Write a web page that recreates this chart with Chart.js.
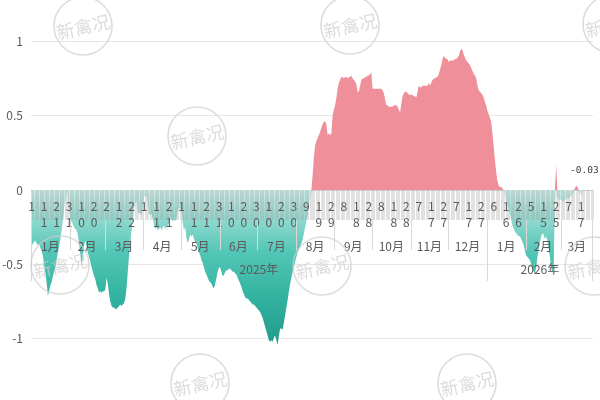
<!DOCTYPE html>
<html>
<head>
<meta charset="utf-8">
<script src="https://cdn.jsdelivr.net/npm/chart.js@4.4.1/dist/chart.umd.min.js"></script>
<style>
  html, body { margin: 0; padding: 0; background: #fff; }
  #wrap { width: 600px; height: 400px; }
</style>
</head>
<body>
<div id="wrap"><canvas id="chart" width="600" height="400"></canvas></div>
<script>
// ---------- DATA (daily values) ----------
const jan25 = [-0.38,-0.36,-0.35,-0.34,-0.36,-0.37,-0.36,-0.39,-0.41,-0.44,-0.50,-0.56,-0.62,-0.71,-0.68,-0.64,-0.62,-0.58,-0.55,-0.52,-0.47,-0.42,-0.38,-0.33,-0.27,-0.20,-0.12,-0.07,-0.03,0,-0.15];
const feb25 = [-0.20,-0.21,-0.23,-0.25,-0.26,-0.27,-0.30,-0.36,-0.43,-0.51,-0.44,-0.37,-0.34,-0.38,-0.42,-0.45,-0.48,-0.52,-0.55,-0.58,-0.60,-0.64,-0.66,-0.69,-0.68,-0.69,-0.68,-0.68];
const mar25 = [-0.67,-0.59,-0.63,-0.70,-0.75,-0.78,-0.79,-0.79,-0.80,-0.80,-0.79,-0.78,-0.77,-0.78,-0.77,-0.76,-0.73,-0.66,-0.55,-0.44,-0.35,-0.27,-0.19,-0.12,-0.09,-0.07,-0.14,-0.16,-0.15,-0.17,-0.10];
const apr25 = [-0.05,-0.04,-0.04,-0.09,-0.16,-0.17,-0.16,-0.19,-0.24,-0.26,-0.25,-0.27,-0.26,-0.25,-0.27,-0.25,-0.24,-0.26,-0.25,-0.24,-0.22,-0.18,-0.20,-0.21,-0.20,-0.21,-0.19,-0.14,-0.12,-0.13];
const may25 = [-0.15,-0.22,-0.27,-0.25,-0.32,-0.36,-0.33,-0.30,-0.31,-0.30,-0.33,-0.35,-0.36,-0.39,-0.42,-0.44,-0.47,-0.49,-0.52,-0.55,-0.57,-0.59,-0.61,-0.62,-0.63,-0.65,-0.66,-0.63,-0.59,-0.55,-0.52];
const jun25 = [-0.52,-0.55,-0.58,-0.57,-0.55,-0.54,-0.54,-0.53,-0.53,-0.54,-0.55,-0.55,-0.56,-0.57,-0.59,-0.61,-0.63,-0.65,-0.68,-0.70,-0.72,-0.73,-0.73,-0.74,-0.75,-0.76,-0.77,-0.77,-0.78,-0.79];
const jul25 = [-0.80,-0.81,-0.82,-0.84,-0.86,-0.89,-0.92,-0.95,-0.98,-1.01,-1.02,-1.01,-1.02,-0.99,-0.98,-1.01,-1.04,-0.98,-0.93,-0.93,-0.94,-0.89,-0.84,-0.79,-0.74,-0.68,-0.63,-0.59,-0.55,-0.51,-0.48];
const aug25 = [-0.45,-0.42,-0.40,-0.38,-0.36,-0.33,-0.29,-0.25,-0.21,-0.17,-0.11,-0.05,0,0.10,0.22,0.30,0.33,0.35,0.37,0.39,0.42,0.44,0.46,0.46,0.44,0.37,0.38,0.37,0.38,0.50,0.54];
const sep25 = [0.57,0.62,0.68,0.72,0.74,0.76,0.76,0.75,0.76,0.76,0.75,0.76,0.76,0.77,0.75,0.74,0.73,0.71,0.66,0.66,0.70,0.74,0.75,0.75,0.76,0.76,0.77,0.77,0.78,0.79];
const oct25 = [0.68,0.68,0.68,0.68,0.68,0.68,0.68,0.68,0.67,0.65,0.61,0.57,0.57,0.56,0.56,0.56,0.56,0.57,0.57,0.57,0.56,0.54,0.52,0.58,0.63,0.65,0.66,0.66,0.65,0.64,0.64];
const nov25 = [0.64,0.64,0.63,0.63,0.62,0.66,0.70,0.69,0.69,0.70,0.70,0.70,0.70,0.70,0.72,0.70,0.72,0.74,0.75,0.75,0.76,0.76,0.78,0.81,0.84,0.88,0.90,0.89,0.88,0.88];
const dec25 = [0.86,0.87,0.87,0.87,0.87,0.88,0.88,0.89,0.90,0.93,0.95,0.94,0.91,0.89,0.87,0.86,0.85,0.84,0.82,0.80,0.78,0.77,0.75,0.70,0.67,0.66,0.65,0.64,0.62,0.59,0.57];
const jan26 = [0.53,0.51,0.48,0.46,0.38,0.29,0.20,0.12,0.06,0.03,0.02,0.02,0.01,0,-0.03,-0.07,-0.10,-0.13,-0.16,-0.20,-0.24,-0.26,-0.28,-0.29,-0.30,-0.31,-0.31,-0.33,-0.35,-0.37,-0.41];
const feb26 = [-0.44,-0.45,-0.46,-0.47,-0.50,-0.53,-0.55,-0.56,-0.52,-0.45,-0.40,-0.35,-0.31,-0.29,-0.30,-0.33,-0.31,-0.34,-0.40,-0.45,-0.52,-0.56,-0.50,-0.10,0.17,-0.05,-0.06,-0.07];
const mar26 = [-0.06,-0.07,-0.08,-0.07,-0.06,-0.05,-0.06,-0.05,-0.04,-0.03,-0.02,0.01,0.03,0.02,-0.01,-0.02,-0.03,-0.03];

// ---------- AXIS TEXT ----------
const monthNames2025 = ["1月","2月","3月","4月","5月","6月","7月","8月","9月","10月","11月","12月"];
const monthNames2026 = ["1月","2月","3月"];
const yearNames = ["2025年","2026年"];
const yTicks = [-1, -0.5, 0, 0.5, 1];

const values = [].concat(jan25, feb25, mar25, apr25, may25, jun25, jul25, aug25,
  sep25, oct25, nov25, dec25, jan26, feb26, mar26);

// one category per day, Jan 1 2025 .. Mar 26 2026 (last days empty)
const categoryCount = 450;
const dates = [];
for (let i = 0; i < categoryCount; i++) dates.push(new Date(2025, 0, 1 + i));
const labels = dates.map(d => `${d.getFullYear()}-${d.getMonth() + 1}-${d.getDate()}`);

const padded = labels.map((_, i) => (i < values.length ? values[i] : null));
const positive = padded.map(v => (v === null ? null : Math.max(v, 0)));
const negative = padded.map(v => (v === null ? null : Math.min(v, 0)));

const FONT = '"Noto Sans CJK SC", "Noto Sans", sans-serif';
const TEXT = "#595959";

// ---------- TEAL GRADIENT ----------
function negFill(context) {
  const chart = context.chart;
  const { ctx, chartArea, scales } = chart;
  if (!chartArea || !scales.y) return "#4cc3b3";
  const top = scales.y.getPixelForValue(0);
  const bottom = scales.y.getPixelForValue(-1.05);
  const g = ctx.createLinearGradient(0, top, 0, bottom);
  g.addColorStop(0, "#cdeee9");
  g.addColorStop(0.15, "#9adcd3");
  g.addColorStop(0.4, "#52c6b6");
  g.addColorStop(0.7, "#31b19f");
  g.addColorStop(1, "#23998a");
  return g;
}

// ---------- MULTI-LEVEL DATE AXIS + LABEL + WATERMARKS ----------
const axisPlugin = {
  id: "multiAxis",
  afterDatasetsDraw(chart) {
    const { ctx, scales: { x, y } } = chart;
    const n = labels.length;
    const slot = (x.right - x.left) / n;
    const edge = i => x.left + i * slot;
    const y0 = y.getPixelForValue(0);

    ctx.save();

    // per-day stripes under the zero line
    ctx.strokeStyle = "rgba(160,160,160,0.45)";
    ctx.lineWidth = 0.7;
    ctx.beginPath();
    for (let i = 0; i <= n; i++) {
      const px = Math.round(edge(i)) + 0.5;
      ctx.moveTo(px, y0);
      ctx.lineTo(px, y0 + 30);
    }
    ctx.stroke();

    // day numbers, digits stacked
    ctx.fillStyle = TEXT;
    ctx.font = `12px ${FONT}`;
    ctx.textAlign = "center";
    ctx.textBaseline = "middle";
    for (let i = 0; i < n; i += 10) {
      const digits = String(dates[i].getDate());
      const px = x.getPixelForValue(i);
      for (let k = 0; k < digits.length; k++) {
        ctx.fillText(digits[k], px, y0 + 16 + k * 16);
      }
    }

    // months and years
    const months = [];
    const years = [];
    dates.forEach((d, i) => {
      const m = d.getMonth(), yr = d.getFullYear();
      const lastM = months[months.length - 1];
      if (!lastM || lastM.m !== m || lastM.yr !== yr) months.push({ m, yr, start: i, end: i + 1 });
      else lastM.end = i + 1;
      const lastY = years[years.length - 1];
      if (!lastY || lastY.yr !== yr) years.push({ yr, start: i, end: i + 1 });
      else lastY.end = i + 1;
    });

    ctx.strokeStyle = "#d9d9d9";
    ctx.lineWidth = 1;
    ctx.beginPath();
    months.forEach(g => {
      const px = Math.round(edge(g.start)) + 0.5;
      ctx.moveTo(px, y0 + 30);
      ctx.lineTo(px, y0 + 60);
    });
    years.forEach(g => {
      const px = Math.round(edge(g.start)) + 0.5;
      ctx.moveTo(px, y0 + 30);
      ctx.lineTo(px, y0 + 91);
    });
    const rx = Math.round(edge(n)) - 0.5;
    ctx.moveTo(rx, y0 + 30);
    ctx.lineTo(rx, y0 + 91);
    ctx.stroke();

    months.forEach(g => {
      const names = g.yr === 2025 ? monthNames2025 : monthNames2026;
      ctx.fillText(names[g.m], (edge(g.start) + edge(g.end)) / 2, y0 + 56);
    });
    years.forEach((g, k) => {
      ctx.fillText(yearNames[k], (edge(g.start) + edge(g.end)) / 2, y0 + 79);
    });

    // value label on the last point
    const last = values.length - 1;
    const lx = x.getPixelForValue(last);
    const ly = y.getPixelForValue(values[last]);
    ctx.font = '9.5px "DejaVu Sans Mono", monospace';
    ctx.fillStyle = "#404040";
    ctx.fillText(values[last].toFixed(2), lx + 2, ly - 24);

    // watermarks
    const marks = [[83, 26], [350, 25], [612, 24], [197, 136], [60, 265], [322, 266], [594, 266], [200, 383], [467, 383]];
    ctx.strokeStyle = "rgba(205,205,205,0.7)";
    ctx.fillStyle = "rgba(205,205,205,0.7)";
    ctx.lineWidth = 1.6;
    ctx.font = `18px ${FONT}`;
    marks.forEach(([mx, my]) => {
      ctx.beginPath();
      ctx.arc(mx, my, 29, 0, Math.PI * 2);
      ctx.stroke();
      ctx.save();
      ctx.translate(mx, my);
      ctx.rotate(-0.22);
      ctx.fillText("新禽况", 0, 1);
      ctx.restore();
    });

    ctx.restore();
  }
};

new Chart(document.getElementById("chart"), {
  type: "line",
  data: {
    labels: labels,
    datasets: [
      {
        data: positive,
        fill: "origin",
        backgroundColor: "#ee8f99",
        borderColor: "rgba(0,0,0,0)",
        borderWidth: 0,
        pointRadius: 0,
        tension: 0
      },
      {
        data: negative,
        fill: "origin",
        backgroundColor: negFill,
        borderColor: "rgba(0,0,0,0)",
        borderWidth: 0,
        pointRadius: 0,
        tension: 0
      }
    ]
  },
  options: {
    responsive: false,
    animation: false,
    devicePixelRatio: 1,
    events: [],
    layout: { padding: { top: 4, right: 7, bottom: 24, left: 0 } },
    scales: {
      x: { type: "category", display: false, offset: true },
      y: {
        min: -1.25,
        max: 1.25,
        afterBuildTicks: s => { s.ticks = yTicks.map(v => ({ value: v })); },
        afterFit: s => { s.width = 31; s.paddingTop = 0; s.paddingBottom = 0; },
        border: { display: false },
        grid: {
          drawTicks: false,
          color: c => (c.tick && c.tick.value === 0 ? "#d9d9d9" : "#e6e6e6")
        },
        ticks: {
          padding: 8,
          color: TEXT,
          font: { family: FONT, size: 12 },
          callback: v => String(v)
        }
      }
    },
    plugins: {
      legend: { display: false },
      tooltip: { enabled: false }
    }
  },
  plugins: [axisPlugin]
});
</script>
</body>
</html>
